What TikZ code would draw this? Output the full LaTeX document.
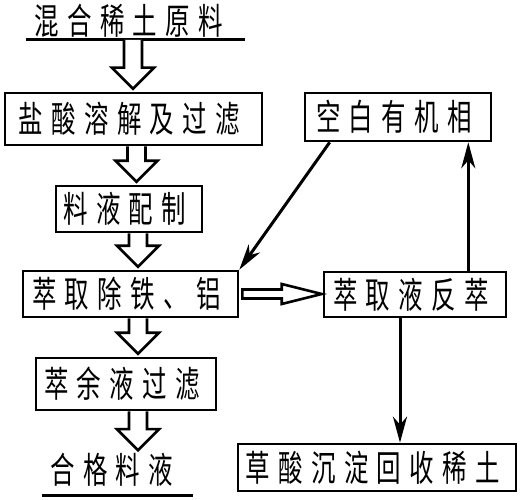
\documentclass[tikz,border=0pt]{standalone}
\usepackage{fontspec}
\newfontfamily\cjk[FakeStretch=0.68,LetterSpace=23]{Noto Sans CJK SC}
\usetikzlibrary{arrows.meta,calc}
\definecolor{LineClr}{rgb}{0,0,0}

\tikzset{
  StepText/.style={inner sep=0pt,font=\cjk\fontsize{36}{36}\selectfont,
    execute at begin node={\hskip-8.3pt}},
  StepBox/.style={StepText,draw=LineClr,line width=2.6pt},
  Rule/.style={line width=3pt,color=LineClr},
  FatArrow/.style={line width=2.6pt,color=LineClr,fill=white,line join=miter},
  Flow/.style={line width=3pt,color=LineClr,-{Stealth[length=26pt,width=14pt,inset=8pt]}}
}

\newcommand\FatDown[2]{%
  \draw[FatArrow] let \p1=(#1),\p2=(#2) in
    (\x1-9pt,\y1) -- (\x1-9pt,\y2+24pt) -- (\x1-21pt,\y2+24pt) -- (\x1,\y2+3pt)
    -- (\x1+21pt,\y2+24pt) -- (\x1+9pt,\y2+24pt) -- (\x1+9pt,\y1);}

\begin{document}
\begin{tikzpicture}[x=1pt,y=-1pt]
\useasboundingbox (0,0) rectangle (522,500);

\node[StepText] (raw) at (133,21) {混合稀土原料};
\coordinate (rawfoot) at (133,40);
\draw[Rule] (26,40) -- (245,40);

\node[StepBox,minimum width=257pt,minimum height=52pt] (dissolve) at (133.5,119) {盐酸溶解及过滤};
\node[StepBox,minimum width=146pt,minimum height=46pt] (prep) at (129,209) {料液配制};
\node[StepBox,minimum width=215pt,minimum height=46pt] (extract) at (130.5,294) {萃取除铁、铝};
\node[StepBox,minimum width=180pt,minimum height=52pt] (raffin) at (126,384) {萃余液过滤};
\node[StepText] (qualified) at (116,470) {合格料液};
\draw[Rule] (42,495) -- (193,495);

\node[StepBox,minimum width=186pt,minimum height=48pt] (blank) at (398,117) {空白有机相};
\node[StepBox,minimum width=182pt,minimum height=45pt] (strip) at (415,294.5) {萃取液反萃};
\node[StepBox,minimum width=278pt,minimum height=47pt] (oxalate) at (377,467.5) {草酸沉淀回收稀土};

\FatDown{rawfoot}{dissolve.north}
\FatDown{$(dissolve.south)+(3,0)$}{prep.north}
\FatDown{$(prep.south)+(9,0)$}{extract.north}
\FatDown{$(extract.south)+(7.5,0)$}{raffin.north}
\FatDown{$(raffin.south)+(12,0)$}{qualified.north}

\draw[FatArrow] let \p1=(extract.east),\p2=(strip.west) in
  (\x1+3pt,\y1+4.5pt) -- (\x2-41pt,\y1+4.5pt) -- (\x2-41pt,\y1+10pt) -- (\x2-1pt,\y1)
  -- (\x2-41pt,\y1-10pt) -- (\x2-41pt,\y1-4.5pt) -- (\x1+3pt,\y1-4.5pt) -- cycle;

\coordinate (striptop) at ($(strip.north east)+(-39,0)$);
\coordinate (stripfoot) at ($(strip.south)+(-15,0)$);
\coordinate (blankfoot) at ($(blank.south west)+(26,0)$);
\draw[Flow] (striptop) -- (striptop |- blank.south);
\draw[Flow] (blankfoot) -- (extract.north east);
\draw[Flow] (stripfoot) -- (stripfoot |- oxalate.north);

\end{tikzpicture}
\end{document}
